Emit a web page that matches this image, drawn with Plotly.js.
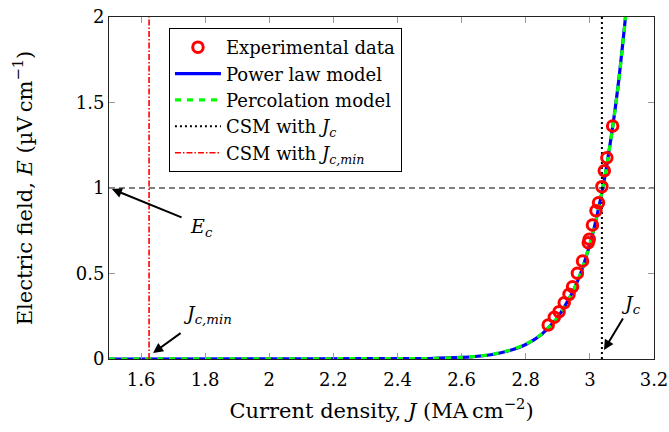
<!DOCTYPE html>
<html>
<head>
<meta charset="utf-8">
<script src="https://cdn.plot.ly/plotly-3.0.1.min.js"></script>
<style>html,body{margin:0;padding:0;background:#fff;}#chart{width:669px;height:432px;}</style>
</head>
<body>
<div id="chart"></div>
<script>
const expJ = [2.870, 2.889, 2.904, 2.920, 2.935, 2.946, 2.961, 2.977, 2.995, 2.998, 3.008, 3.019, 3.027, 3.0375, 3.045, 3.053, 3.071];
const expE = [0.199, 0.244, 0.277, 0.329, 0.378, 0.423, 0.501, 0.573, 0.680, 0.700, 0.784, 0.867, 0.914, 1.008, 1.101, 1.177, 1.363];

// Power law model curve
const powJ = [1.50, 2.00, 2.30, 2.50, 2.60, 2.65, 2.70, 2.75, 2.80, 2.85, 2.90, 2.925, 2.95, 2.975, 3.00, 3.01, 3.03, 3.04, 3.05, 3.06, 3.07, 3.08, 3.09, 3.10, 3.11, 3.12];
const powE = [0.000, 0.001, 0.002, 0.003, 0.009, 0.016, 0.028, 0.050, 0.085, 0.145, 0.244, 0.320, 0.406, 0.520, 0.672, 0.740, 0.906, 1.000, 1.100, 1.220, 1.343, 1.480, 1.630, 1.800, 1.980, 2.180];

// Percolation model curve
const percJ = [1.50, 2.00, 2.30, 2.50, 2.60, 2.65, 2.70, 2.75, 2.80, 2.85, 2.90, 2.925, 2.95, 2.975, 3.00, 3.01, 3.03, 3.04, 3.05, 3.06, 3.07, 3.08, 3.09, 3.10, 3.11, 3.12];
const percE = [0.000, 0.001, 0.002, 0.003, 0.009, 0.016, 0.029, 0.051, 0.086, 0.146, 0.245, 0.321, 0.407, 0.521, 0.672, 0.741, 0.905, 1.000, 1.098, 1.218, 1.340, 1.476, 1.625, 1.795, 1.975, 2.175];

// Critical values
const Jc = 3.0375;
const JcMin = 1.625;
const Ec = 1.0;
const yRange = [0, 2];
const xRange = [1.5, 3.2];

// Tick labels
const xTickVals = [1.6, 1.8, 2.0, 2.2, 2.4, 2.6, 2.8, 3.0, 3.2];
const xTickText = ["1.6", "1.8", "2", "2.2", "2.4", "2.6", "2.8", "3", "3.2"];
const yTickVals = [0, 0.5, 1, 1.5, 2];
const yTickText = ["0", "0.5", "1", "1.5", "2"];

const FONT = "DejaVu Serif, serif";

const traces = [
  {x: xRange, y: [Ec, Ec], mode: 'lines', showlegend: false, hoverinfo: 'skip',
   line: {color: '#000', width: 1, dash: '6px,4px'}},
  {x: powJ, y: powE, mode: 'lines', name: 'Power law model', legendrank: 2,
   line: {color: '#0000ff', width: 3.2, shape: 'spline', smoothing: 0.6}},
  {x: percJ, y: percE, mode: 'lines', name: 'Percolation model', legendrank: 3,
   line: {color: '#00ff00', width: 3.2, dash: '6px,6px', shape: 'spline', smoothing: 0.6}},
  {x: [Jc, Jc], y: yRange, mode: 'lines', name: 'CSM with <i>J<sub>c</sub></i>', legendrank: 4,
   line: {color: '#000', width: 2, dash: '2px,3px'}},
  {x: [JcMin, JcMin], y: yRange, mode: 'lines', name: 'CSM with <i>J<sub>c,min</sub></i>', legendrank: 5,
   line: {color: '#ff0000', width: 1.6, dash: '6px,2px,1.5px,2px'}},
  {x: expJ, y: expE, mode: 'markers', name: 'Experimental data', legendrank: 1,
   marker: {symbol: 'circle-open', size: 10.5, color: '#ff0000', line: {width: 3, color: '#ff0000'}}}
];

const arrowStyle = {showarrow: true, arrowhead: 2, arrowsize: 1, arrowwidth: 2, arrowcolor: '#000',
  axref: 'x', ayref: 'y', xref: 'x', yref: 'y', text: '', standoff: 0, startstandoff: 0};

const layout = {
  width: 669, height: 432,
  margin: {l: 109, r: 15, t: 17, b: 73},
  paper_bgcolor: '#fff', plot_bgcolor: '#fff',
  font: {family: FONT, size: 18, color: '#000'},
  showlegend: true,
  legend: {x: 0.11, y: 0.968, xanchor: 'left', yanchor: 'top',
    bgcolor: '#fff', bordercolor: '#000', borderwidth: 1,
    font: {family: FONT, size: 18, color: '#000'},
    traceorder: 'normal', tracegroupgap: 0, itemwidth: 46},
  xaxis: {range: xRange, tickvals: xTickVals, ticktext: xTickText,
    ticks: 'inside', ticklen: 6, tickcolor: '#999', tickwidth: 1,
    showline: true, linecolor: '#222', linewidth: 1, mirror: 'allticks',
    showgrid: false, zeroline: false, ticklabelstandoff: 4,
    tickfont: {family: FONT, size: 18},
    title: {text: 'Current density, <i>J</i> (MA\u2009cm<sup>\u22122</sup>)', font: {family: FONT, size: 21}, standoff: 14}},
  yaxis: {range: yRange, tickvals: yTickVals, ticktext: yTickText,
    ticks: 'inside', ticklen: 6, tickcolor: '#999', tickwidth: 1,
    showline: true, linecolor: '#222', linewidth: 1, mirror: 'allticks',
    showgrid: false, zeroline: false, automargin: false,
    tickfont: {family: FONT, size: 18},
    title: {text: 'Electric field, <i>E</i> (\u00b5V\u2009cm<sup>\u22121</sup>)', font: {family: FONT, size: 21}, standoff: 37}},
  annotations: [
    Object.assign({}, arrowStyle, {x: 1.509, y: 0.994, ax: 1.731, ay: 0.825}),
    Object.assign({}, arrowStyle, {x: 1.6375, y: 0.035, ax: 1.728, ay: 0.158}),
    Object.assign({}, arrowStyle, {x: 3.044, y: 0.053, ax: 3.106, ay: 0.246}),
    {x: 1.79, y: 0.77, xref: 'x', yref: 'y', showarrow: false, text: '<i>E<sub>c</sub></i>', font: {family: FONT, size: 19}},
    {x: 1.806, y: 0.263, xref: 'x', yref: 'y', showarrow: false, text: '<i>J<sub>c,min</sub></i>', font: {family: FONT, size: 19}},
    {x: 3.128, y: 0.316, xref: 'x', yref: 'y', showarrow: false, text: '<i>J<sub>c</sub></i>', font: {family: FONT, size: 19}}
  ]
};

Plotly.newPlot('chart', traces, layout, {displayModeBar: false, staticPlot: true});
</script>
</body>
</html>
